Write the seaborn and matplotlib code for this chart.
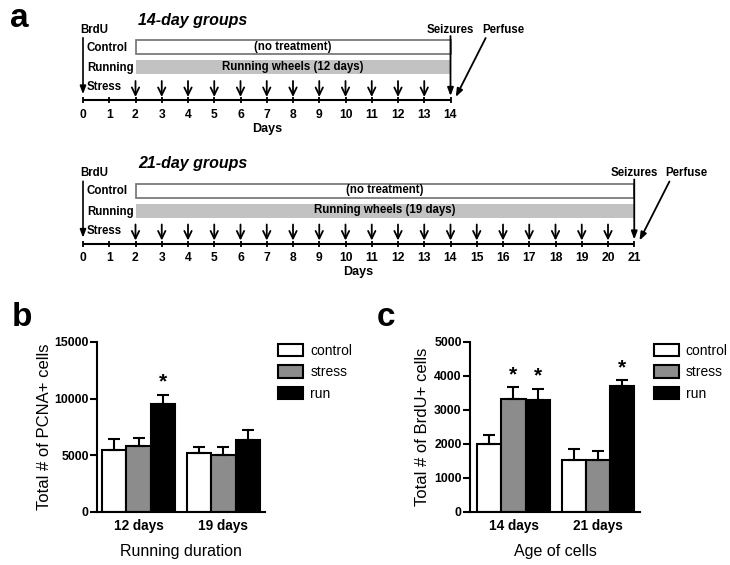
import numpy as np
import pandas as pd
import seaborn as sns
import matplotlib.pyplot as plt
from matplotlib.patches import Rectangle, Patch

sns.set_theme(style='ticks', rc={'axes.edgecolor': 'black', 'xtick.color': 'black',
                                 'ytick.color': 'black', 'text.color': 'black',
                                 'axes.labelcolor': 'black'})
plt.rcParams['font.family'] = ['Liberation Sans', 'DejaVu Sans']

W, H = 730, 565

# ---- panel a: protocol timelines ----
timeline_days = [14, 21]
timeline_titles = ['14-day groups', '21-day groups']
running_texts = ['Running wheels (12 days)', 'Running wheels (19 days)']
control_text = '(no treatment)'
row_labels = ['Control', 'Running', 'Stress']
treat_start = 2
stress_days_14 = [2, 3, 4, 5, 6, 7, 8, 9, 10, 11, 12, 13]
stress_days_21 = [2, 3, 4, 5, 6, 7, 8, 9, 10, 11, 12, 13, 14, 15, 16, 17, 18, 19, 20]

# ---- panels b / c: bar data (mean and SEM) ----
treatments = ['control', 'stress', 'run']
treat_colors = ['white', '#8c8c8c', 'black']

pcna_groups = ['12 days', '19 days']
pcna_control = [5510, 5240]
pcna_stress = [5860, 5000]
pcna_run = [9530, 6350]
pcna_sem_control = [970, 470]
pcna_sem_stress = [705, 710]
pcna_sem_run = [830, 860]
pcna_sig = [('run', '12 days')]

brdu_groups = ['14 days', '21 days']
brdu_control = [2010, 1540]
brdu_stress = [3335, 1540]
brdu_run = [3285, 3697]
brdu_sem_control = [265, 305]
brdu_sem_stress = [330, 245]
brdu_sem_run = [345, 185]
brdu_sig = [('stress', '14 days'), ('run', '14 days'), ('run', '21 days')]


def px_axes(fig, left, top, width, height):
    return fig.add_axes([left / W, 1 - (top + height) / H, width / W, height / H])


fig = plt.figure(figsize=(W / 100, H / 100), dpi=100)


def draw_timeline(ax, n, title, run_text, stress_days):
    ax.set_xlim(-2, 24)
    ax.set_ylim(4.9, -2.35)
    ax.axis('off')
    bold = dict(fontweight='bold', fontsize=8.3)
    ax.text(treat_start + 0.1, -1.35, title, fontsize=11.5, fontweight='bold',
            fontstyle='italic', va='center', ha='left')
    ax.text(-0.12, -0.85, 'BrdU', va='center', ha='left', **bold)
    ax.annotate('', xy=(0, 2.5), xytext=(0, -0.6),
                arrowprops=dict(arrowstyle='-|>,head_length=0.4,head_width=0.15', lw=1.2, color='black'))
    for i, lab in enumerate(row_labels):
        ax.text(0.15, i + 0.05 - (0.05 if i == 2 else 0), lab, va='center', ha='left', **bold)
    ax.add_patch(Rectangle((treat_start, -0.35), n - treat_start, 0.7, facecolor='white',
                           edgecolor='#707070', lw=1.2))
    ax.text((treat_start + n) / 2, 0, control_text, va='center', ha='center', **bold)
    ax.add_patch(Rectangle((treat_start, 0.65), n - treat_start, 0.7, facecolor='#c2c2c2',
                           edgecolor='none'))
    ax.text((treat_start + n) / 2, 1, run_text, va='center', ha='center', **bold)
    for d in stress_days:
        ax.annotate('', xy=(d, 2.5), xytext=(d, 1.7),
                    arrowprops=dict(arrowstyle='->,head_length=0.45,head_width=0.22', lw=1.3,
                                    color='black', shrinkA=0, shrinkB=0))
    ax.annotate('', xy=(n, 2.45), xytext=(n, -0.55),
                arrowprops=dict(arrowstyle='-|>,head_length=0.4,head_width=0.15', lw=1.3,
                                color='black', shrinkA=0, shrinkB=0))
    ax.text(n, -0.85, 'Seizures', va='center', ha='center', **bold)
    ax.text(n + 2.0, -0.85, 'Perfuse', va='center', ha='center', **bold)
    ax.annotate('', xy=(n + 0.2, 2.5), xytext=(n + 1.34, -0.45),
                arrowprops=dict(arrowstyle='-|>,head_length=0.4,head_width=0.15', lw=1.3,
                                color='black', shrinkA=0, shrinkB=0))
    ticks = np.arange(n + 1)
    ax.plot([0, n], [2.65, 2.65], color='black', lw=1.5, solid_capstyle='butt')
    ax.vlines(ticks, 2.5, 2.82, color='black', lw=1.3)
    for t in ticks:
        ax.text(t, 3.38, str(t), va='center', ha='center', fontweight='bold', fontsize=8.7)
    ax.text(n / 2, 4.1, 'Days', va='center', ha='center', fontsize=9, fontweight='bold')


ax_t1 = px_axes(fig, 30.5, 0, 682.5, 145)
draw_timeline(ax_t1, timeline_days[0], timeline_titles[0], running_texts[0], stress_days_14)
ax_t2 = px_axes(fig, 30.5, 143.5, 682.5, 145)
draw_timeline(ax_t2, timeline_days[1], timeline_titles[1], running_texts[1], stress_days_21)


def draw_bars(ax, groups, means, sems, sig, ylim, yticks, ylabel, xlabel, xlim, ylabelpad):
    df = pd.DataFrame({
        'group': groups * len(treatments),
        'treatment': [t for t in treatments for _ in groups],
        'value': [v for m in means for v in m],
    })
    sns.barplot(data=df, x='group', y='value', hue='treatment', hue_order=treatments,
                order=groups, palette=treat_colors, saturation=1, width=0.86,
                edgecolor='black', linewidth=1.5, errorbar=None, legend=False, ax=ax)
    for cont, t, sem in zip(ax.containers, treatments, sems):
        xs = [b.get_x() + b.get_width() / 2 for b in cont]
        hs = [b.get_height() for b in cont]
        ax.errorbar(xs, hs, yerr=[[0] * len(hs), sem], fmt='none', ecolor='black',
                    elinewidth=1.5, capsize=4.5, capthick=1.5, zorder=1)
        for x, h, s, g in zip(xs, hs, sem, groups):
            if (t, g) in sig:
                ax.annotate('*', (x, h + s), xytext=(0, 2), textcoords='offset points',
                            ha='center', va='bottom', fontsize=15, fontweight='bold')
    ax.set_xlim(*xlim)
    ax.set_ylim(*ylim)
    ax.set_yticks(yticks)
    ax.set_yticklabels([str(v) for v in yticks], fontsize=8.8, fontweight='bold')
    ax.set_xticks(range(len(groups)))
    ax.set_xticklabels(groups, fontsize=9.8, fontweight='bold')
    ax.tick_params(axis='x', length=0, pad=5)
    ax.tick_params(axis='y', length=5, width=1.5, pad=1)
    ax.set_ylabel(ylabel, fontsize=12, labelpad=ylabelpad)
    ax.set_xlabel(xlabel, fontsize=11.5, labelpad=8)
    sns.despine(ax=ax)
    for sp in ['left', 'bottom']:
        ax.spines[sp].set_linewidth(1.5)
    handles = [Patch(facecolor=c, edgecolor='black', linewidth=1.5) for c in treat_colors]
    ax.legend(handles, treatments, loc='upper left', bbox_to_anchor=(1.08, 0.99),
              frameon=False, fontsize=10, handlelength=1.8, handleheight=1.0,
              labelspacing=0.55, handletextpad=0.5, borderaxespad=0, borderpad=0)


ax_b = px_axes(fig, 97, 342, 168, 170)
draw_bars(ax_b, pcna_groups, [pcna_control, pcna_stress, pcna_run],
          [pcna_sem_control, pcna_sem_stress, pcna_sem_run], pcna_sig,
          (0, 15000), [0, 5000, 10000, 15000], 'Total # of PCNA+ cells', 'Running duration',
          (-0.49, 1.49), 1.5)

ax_c = px_axes(fig, 470, 342, 170, 170)
draw_bars(ax_c, brdu_groups, [brdu_control, brdu_stress, brdu_run],
          [brdu_sem_control, brdu_sem_stress, brdu_sem_run], brdu_sig,
          (0, 5000), [0, 1000, 2000, 3000, 4000, 5000], 'Total # of BrdU+ cells', 'Age of cells',
          (-0.515, 1.50), 3)

fig.text(10 / W, 1 - 27 / H, 'a', fontsize=24, fontweight='bold', ha='left', va='baseline')
fig.text(12 / W, 1 - 326 / H, 'b', fontsize=24, fontweight='bold', ha='left', va='baseline')
fig.text(377 / W, 1 - 326 / H, 'c', fontsize=24, fontweight='bold', ha='left', va='baseline')

fig.savefig('out.png', dpi=100)
